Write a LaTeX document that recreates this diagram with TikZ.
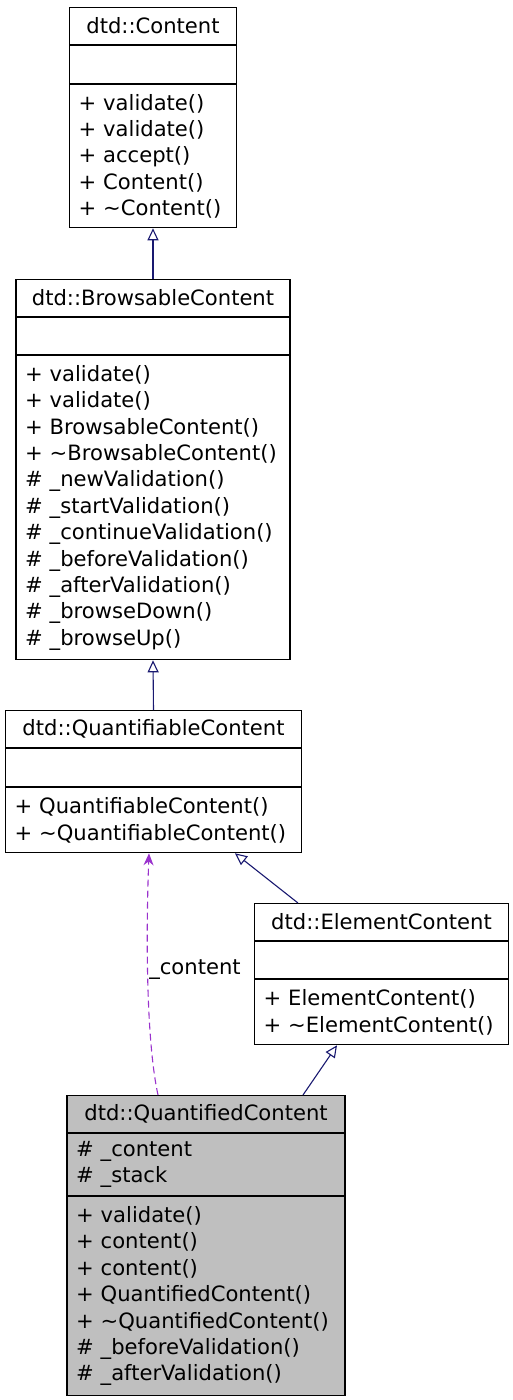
\documentclass[tikz,border=0pt]{standalone}
\usepackage{fontspec}
\setmainfont{DejaVu Sans}
\usetikzlibrary{positioning,arrows.meta}

\definecolor{edgeblue}{HTML}{191970}
\definecolor{usepurple}{HTML}{9A32CD}
\definecolor{classgray}{HTML}{BFBFBF}

\newcommand{\umlfont}{\fontsize{21.1}{26.4}\selectfont\hyphenpenalty=10000\relax}
\newcommand{\tld}{\textasciitilde}

\tikzset{
  umlpart/.style={draw, line width=1.1pt, fill=white, inner xsep=9pt,
    inner ysep=0pt, anchor=north, font=\umlfont},
  umltitle/.style={umlpart, align=center},
  umllist/.style={umlpart, align=left},
  inherit/.style={edgeblue, line width=1.1pt,
    -{Triangle[open, length=12pt, width=11pt, fill=white]}},
  usage/.style={usepurple, line width=1.1pt, dash pattern=on 7pt off 4pt,
    -{Stealth[length=12pt, width=10pt]}}
}

\begin{document}
\begin{tikzpicture}[x=1pt, y=1pt]
  \useasboundingbox (0,0) rectangle (513,-1400);

  % dtd::Content
  \node[umltitle, text width=149pt, minimum height=37pt] (content) at (153,-7) {dtd::Content};
  \node[umllist, text width=149pt, minimum height=38pt, below=0pt of content] (contentAttr) {};
  \node[umllist, text width=149pt, minimum height=143pt, below=0pt of contentAttr] (contentOps)
    {+ validate()\\+ validate()\\+ accept()\\+ Content()\\+ \tld Content()};

  % dtd::BrowsableContent
  \node[umltitle, text width=256pt, minimum height=37pt] (browsable) at (153,-279) {dtd::BrowsableContent};
  \node[umllist, text width=256pt, minimum height=37pt, below=0pt of browsable] (browsableAttr) {};
  \node[umllist, text width=256pt, minimum height=304pt, below=0pt of browsableAttr] (browsableOps)
    {+ validate()\\+ validate()\\+ BrowsableContent()\\+ \tld BrowsableContent()\\
     \# \_newValidation()\\\# \_startValidation()\\\# \_continueValidation()\\
     \# \_beforeValidation()\\\# \_afterValidation()\\\# \_browseDown()\\\# \_browseUp()};

  % dtd::QuantifiableContent
  \node[umltitle, text width=278pt, minimum height=37pt] (quantifiable) at (153.5,-710) {dtd::QuantifiableContent};
  \node[umllist, text width=278pt, minimum height=38pt, below=0pt of quantifiable] (quantifiableAttr) {};
  \node[umllist, text width=278pt, minimum height=65pt, below=0pt of quantifiableAttr] (quantifiableOps)
    {+ QuantifiableContent()\\+ \tld QuantifiableContent()};

  % dtd::ElementContent
  \node[umltitle, text width=236pt, minimum height=37pt] (element) at (381.5,-903) {dtd::ElementContent};
  \node[umllist, text width=236pt, minimum height=37pt, below=0pt of element] (elementAttr) {};
  \node[umllist, text width=236pt, minimum height=65pt, below=0pt of elementAttr] (elementOps)
    {+ ElementContent()\\+ \tld ElementContent()};

  % dtd::QuantifiedContent
  \node[umltitle, fill=classgray, text width=260pt, minimum height=37pt] (quantified) at (206,-1095) {dtd::QuantifiedContent};
  \node[umllist, fill=classgray, text width=260pt, minimum height=62pt, below=0pt of quantified] (quantifiedAttr)
    {\# \_content\\\# \_stack};
  \node[umllist, fill=classgray, text width=260pt, minimum height=199pt, below=0pt of quantifiedAttr] (quantifiedOps)
    {+ validate()\\+ content()\\+ content()\\+ QuantifiedContent()\\+ \tld QuantifiedContent()\\
     \# \_beforeValidation()\\\# \_afterValidation()};

  % inheritance
  \draw[inherit] (browsable.north) -- (contentOps.south);
  \draw[inherit] (quantifiable.north) -- (browsableOps.south);
  \draw[inherit] ([xshift=-83.5pt]element.north) -- ([xshift=81.5pt]quantifiableOps.south);
  \draw[inherit] ([xshift=97pt]quantified.north) -- ([xshift=-44.5pt]elementOps.south);

  % usage
  \draw[usage] ([xshift=-48pt]quantified.north) .. controls +(-12,55) and +(-3,-80)
    .. ([xshift=-4.5pt]quantifiableOps.south);
  \node[font=\umlfont, inner sep=0pt] (contentLabel) at (195,-970) {\_content};
\end{tikzpicture}
\end{document}
